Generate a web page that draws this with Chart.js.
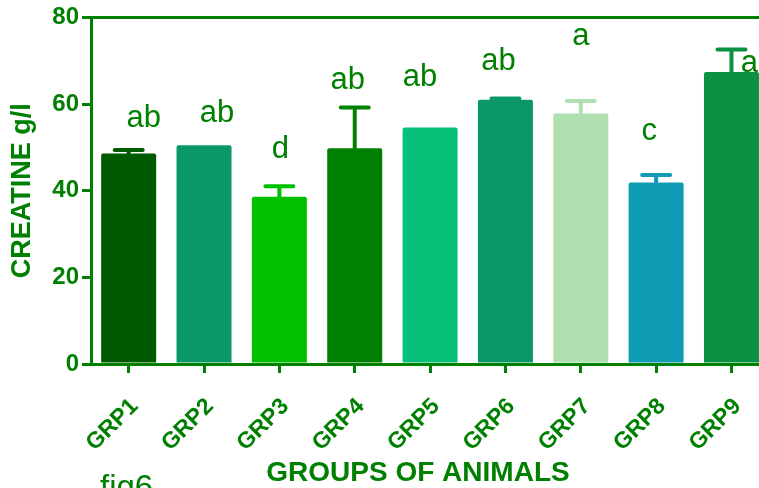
<!DOCTYPE html>
<html>
<head>
<meta charset="utf-8">
<script src="https://cdn.jsdelivr.net/npm/chart.js@4"></script>
<style>
html,body{margin:0;padding:0;overflow:hidden;background:#fff;}
#wrap{position:relative;width:771px;height:488px;}
</style>
</head>
<body>
<div id="wrap"><canvas id="c" width="771" height="488"></canvas></div>
<script>
const categories = ['GRP1','GRP2','GRP3','GRP4','GRP5','GRP6','GRP7','GRP8','GRP9'];
const means = [48.6, 50.5, 38.6, 49.8, 54.6, 61.0, 57.8, 41.9, 67.4];
const errors = [0.8, 0, 2.4, 9.4, 0, 0.3, 2.9, 1.7, 5.2];
const letters = ['ab','ab','d','ab','ab','ab','a','c','a'];
const letterY = [56.6, 57.9, 49.6, 65.4, 66.2, 69.8, 75.6, 53.6, 69.4];
const yTicks = [0, 20, 40, 60, 80];
const barColors = ['#005a00','#0a9966','#00c000','#008000','#07c07a','#0a9966','#b0e0b0','#109bb5','#0b9142'];

const GREEN = '#008000';
const FONT = "'Liberation Sans', Arial, sans-serif";

const errorBars = {
  id: 'errorBars',
  afterDatasetsDraw(chart) {
    const ctx = chart.ctx;
    const meta = chart.getDatasetMeta(0);
    const ys = chart.scales.y;
    ctx.save();
    ctx.lineWidth = 4;
    ctx.lineCap = 'round';
    meta.data.forEach((bar, i) => {
      const e = errors[i];
      if (!e) return;
      const top = ys.getPixelForValue(means[i] + e);
      ctx.strokeStyle = barColors[i];
      ctx.beginPath();
      ctx.moveTo(bar.x, bar.y);
      ctx.lineTo(bar.x, top);
      ctx.moveTo(bar.x - 14, top);
      ctx.lineTo(bar.x + 14, top);
      ctx.stroke();
    });
    ctx.restore();
  }
};

const annotations = {
  id: 'annotations',
  afterDraw(chart, args, opts) {
    const ctx = chart.ctx;
    const meta = chart.getDatasetMeta(0);
    const ys = chart.scales.y;
    ctx.save();
    ctx.fillStyle = GREEN;
    ctx.font = '31px ' + FONT;
    ctx.textAlign = 'center';
    ctx.textBaseline = 'middle';
    meta.data.forEach((bar, i) => {
      ctx.fillText(letters[i], bar.x + opts.dx[i], ys.getPixelForValue(letterY[i]));
    });
    // x axis title
    ctx.font = 'bold 28px ' + FONT;
    ctx.fillText('GROUPS OF ANIMALS', opts.xTitleX, opts.xTitleY);
    // figure note
    ctx.font = '33px ' + FONT;
    ctx.textAlign = 'left';
    ctx.textBaseline = 'alphabetic';
    ctx.fillText('fig6', opts.figX, opts.figY);
    ctx.restore();
  }
};

new Chart(document.getElementById('c'), {
  type: 'bar',
  data: {
    labels: categories,
    datasets: [{
      data: means,
      backgroundColor: barColors,
      borderWidth: 0,
      borderRadius: 2,
      borderSkipped: 'bottom',
      barPercentage: 0.73,
      categoryPercentage: 1.0
    }]
  },
  options: {
    responsive: false,
    animation: false,
    devicePixelRatio: 1,
    layout: { padding: { top: 16, right: 0, left: 0, bottom: 0 } },
    plugins: {
      legend: { display: false },
      tooltip: { enabled: false },
      annotations: {
        dx: [15, 13, 1, -7, -10, -7, 0, -7, 18],
        xTitleX: 418, xTitleY: 473,
        figX: 100, figY: 498
      }
    },
    scales: {
      x: {
        offset: true,
        afterFit(s) { s.height = 124; },
        border: { display: true, color: GREEN, width: 3 },
        grid: {
          display: true, offset: false, drawOnChartArea: false,
          drawTicks: true, tickLength: 9, tickColor: GREEN, tickWidth: 3, lineWidth: 3, color: GREEN
        },
        ticks: {
          color: GREEN, maxRotation: 45, minRotation: 45, padding: 20, labelOffset: 6,
          font: { family: FONT, size: 23, weight: 'bold' }
        }
      },
      y: {
        min: 0, max: 80,
        afterFit(s) { s.width = 91; },
        afterBuildTicks(s) { s.ticks = yTicks.map(v => ({ value: v })); },
        border: { display: true, color: GREEN, width: 3 },
        grid: {
          display: true, drawOnChartArea: true, drawTicks: true, tickLength: 9,
          tickColor: GREEN, tickWidth: 3, lineWidth: 3,
          color: (c) => (c.tick && c.tick.value === 80) ? GREEN : 'rgba(0,0,0,0)'
        },
        ticks: {
          color: GREEN, padding: 3,
          font: { family: FONT, size: 24, weight: 'bold' }
        },
        title: {
          display: true, text: 'CREATINE g/l', color: GREEN,
          font: { family: FONT, size: 27, weight: 'bold' },
          padding: { top: 6, bottom: 0 }
        }
      }
    }
  },
  plugins: [errorBars, annotations]
});
</script>
</body>
</html>
